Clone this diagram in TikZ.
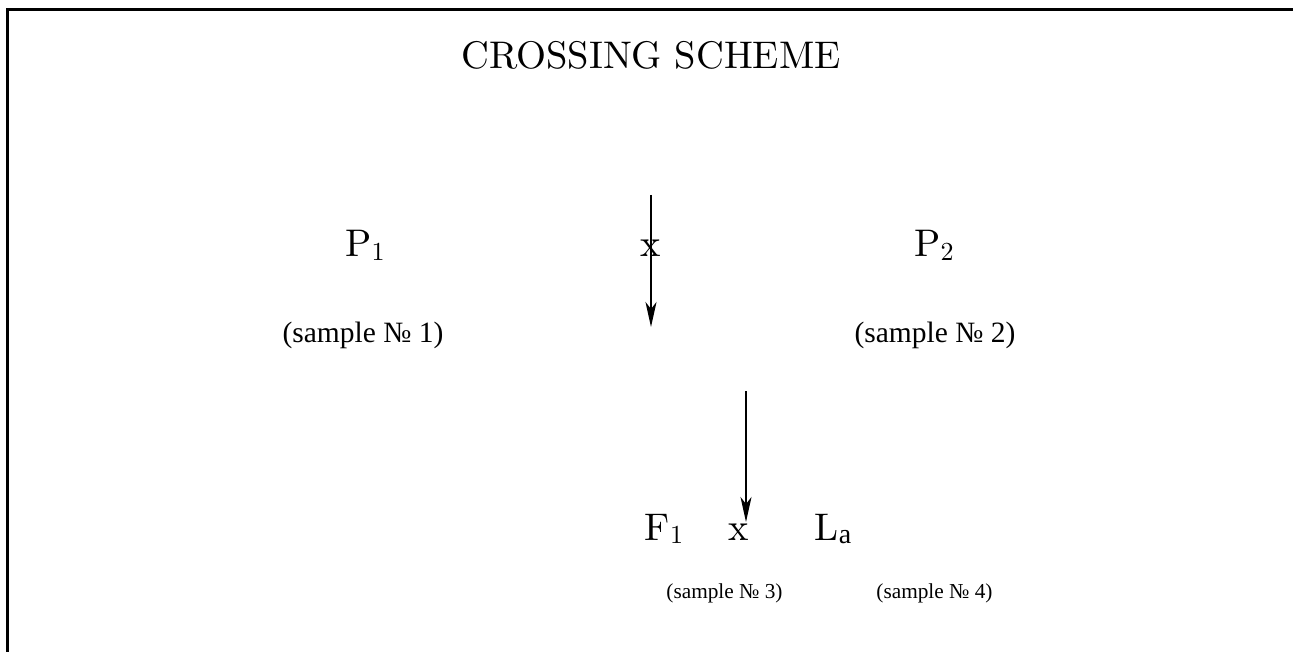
\documentclass[tikz,border=0pt]{standalone}
\usepackage{fontspec}
\setmainfont{lmroman10-regular}[Extension=.otf]
\newfontfamily\smpfont{Liberation Serif}
\usetikzlibrary{arrows.meta}
\newcommand{\lowsub}[1]{\raisebox{-3.5pt}{\fontsize{26}{30}\selectfont #1}}
\newcommand{\lowsubt}[1]{\raisebox{-3pt}{\smpfont\fontsize{28}{30}\selectfont #1}}
\begin{document}
\begin{tikzpicture}[x=1pt,y=-1pt,
  big/.style={inner sep=0pt,anchor=base,font=\fontsize{38.5}{46}\selectfont},
  smpbig/.style={inner sep=0pt,font=\smpfont\fontsize{29.5}{34}\selectfont},
  smpsmall/.style={inner sep=0pt,font=\smpfont\fontsize{21.3}{25}\selectfont},
  arr/.style={line width=2pt,-{Stealth[length=25pt,width=11pt,inset=7pt]}},
  frame/.style={line width=3pt}]
\useasboundingbox (0,0) rectangle (1293,652);
\coordinate (fl) at (7.5,652);
\coordinate (ft) at (7.5,10);
\coordinate (fr) at (1293,10);
\draw[frame] (fl) -- (ft) -- (fr);
\node[big] (title) at (651,69) {CROSSING SCHEME};
\node[big] (p1) at (365,257) {P\lowsub{1}};
\node[big] (x1) at (651,257) {x};
\node[big] (p2) at (934,257) {P\lowsub{2}};
\node[smpbig] (s1) at (363,335) {(sample № 1)};
\node[smpbig] (s2) at (935,335) {(sample № 2)};
\node[big] (f1) at (664,540) {F\lowsub{1}};
\node[big] (x2) at (739,540) {x};
\node[big] (la) at (833,540) {L\lowsubt{a}};
\node[smpsmall] (s3) at (724.5,593) {(sample № 3)};
\node[smpsmall] (s4) at (934.5,593) {(sample № 4)};
\coordinate (a1s) at (651,195);
\coordinate (a1e) at (651,327);
\coordinate (a2s) at (746,391);
\coordinate (a2e) at (746,522);
\draw[arr] (a1s) -- (a1e);
\draw[arr] (a2s) -- (a2e);
\end{tikzpicture}
\end{document}
